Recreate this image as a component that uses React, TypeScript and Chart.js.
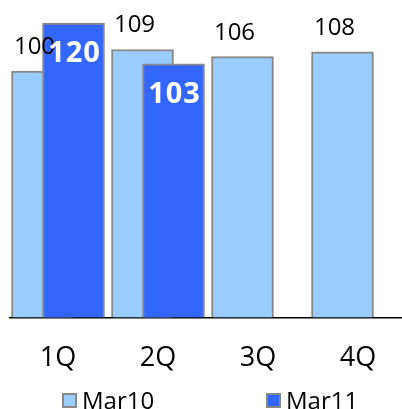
import { useEffect, useRef } from "react";
import { Chart, registerables } from "chart.js";

Chart.register(...registerables);

// Quarterly index, two fiscal years
const quarters = ["1Q", "2Q", "3Q", "4Q"];
const mar10Values = [100, 109, 106, 108];
const mar11Values = [120, 103];
const seriesNames = ["Mar10", "Mar11"];
const seriesColors = ["#99CCFF", "#3366FF"];
const barBorder = "#888888";

// value axis range (bars rise from the bottom of the plot)
const Y_MIN = -2.5;
const Y_MAX = 125;
// each series sits a little left / right of its quarter, overlapping
const SLOT_SHIFT = 0.155;

const FONT = "'Open Sans', sans-serif";

const valueLabels = {
  id: "valueLabels",
  afterDatasetsDraw(chart: any) {
    const { ctx } = chart;
    ctx.save();
    ctx.textAlign = "center";
    ctx.textBaseline = "middle";
    chart.data.datasets.forEach((ds: any, di: number) => {
      const meta = chart.getDatasetMeta(di);
      meta.data.forEach((bar: any, i: number) => {
        const v = ds.data[i].y;
        if (di === 0) {
          ctx.font = `24px ${FONT}`;
          ctx.fillStyle = "#000000";
          ctx.letterSpacing = "0px";
          ctx.fillText(String(v), bar.x - 8, bar.y - 24);
        } else {
          ctx.font = `bold 29px ${FONT}`;
          ctx.fillStyle = "#FFFFFF";
          ctx.letterSpacing = "1px";
          ctx.fillText(String(v), bar.x + 1, bar.y + 31);
        }
      });
    });
    ctx.restore();
  },
};

export default function App() {
  const ref = useRef<HTMLCanvasElement>(null);

  useEffect(() => {
    const chart = new Chart(ref.current!, {
      type: "bar",
      data: {
        datasets: [
          {
            label: seriesNames[0],
            data: mar10Values.map((v, i) => ({ x: i - SLOT_SHIFT, y: v })),
            backgroundColor: seriesColors[0],
            borderColor: barBorder,
            borderWidth: 2,
            order: 2,
          },
          {
            label: seriesNames[1],
            data: mar11Values.map((v, i) => ({ x: i + SLOT_SHIFT, y: v })),
            backgroundColor: seriesColors[1],
            borderColor: barBorder,
            borderWidth: 2,
            order: 1,
          },
        ],
      },
      options: {
        animation: false,
        responsive: true,
        maintainAspectRatio: false,
        layout: { padding: { top: 11, left: 10, right: 0, bottom: 17 } },
        datasets: {
          bar: { grouped: false, barThickness: 62, base: Y_MIN },
        },
        plugins: {
          legend: { display: false },
          tooltip: { enabled: false },
        },
        scales: {
          x: {
            type: "linear",
            offset: false,
            min: -0.48,
            max: 3.52,
            grid: { display: false },
            border: { display: true, color: "#000000", width: 1.5 },
            afterBuildTicks: (scale: any) => {
              scale.ticks = quarters.map((_, i) => ({ value: i }));
            },
            ticks: {
              padding: 17,
              maxRotation: 0,
              color: "#000000",
              font: { family: FONT, size: 27 },
              callback: (value: any) => quarters[value] ?? "",
            },
          },
          y: {
            display: false,
            min: Y_MIN,
            max: Y_MAX,
          },
        },
      },
      plugins: [valueLabels],
    } as any);
    return () => chart.destroy();
  }, []);

  return (
    <div
      style={{
        position: "absolute",
        left: 0,
        top: 0,
        width: 402,
        height: 409,
        overflow: "hidden",
        background: "#FFFFFF",
      }}
    >
      <div style={{ position: "absolute", left: 0, top: 0, width: 410, height: 409 }}>
        <canvas ref={ref} />
      </div>
      <div
        style={{
          position: "absolute",
          left: 62,
          top: 388,
          display: "flex",
          fontFamily: FONT,
          fontSize: 24,
          lineHeight: "24px",
          color: "#000000",
        }}
      >
        {seriesNames.map((name, i) => (
          <div key={name} style={{ width: 204, display: "flex", alignItems: "center" }}>
            <span
              style={{
                display: "inline-block",
                width: 15,
                height: 15,
                boxSizing: "border-box",
                border: `2px solid ${barBorder}`,
                background: seriesColors[i],
                marginRight: 5,
              }}
            />
            {name}
          </div>
        ))}
      </div>
    </div>
  );
}
